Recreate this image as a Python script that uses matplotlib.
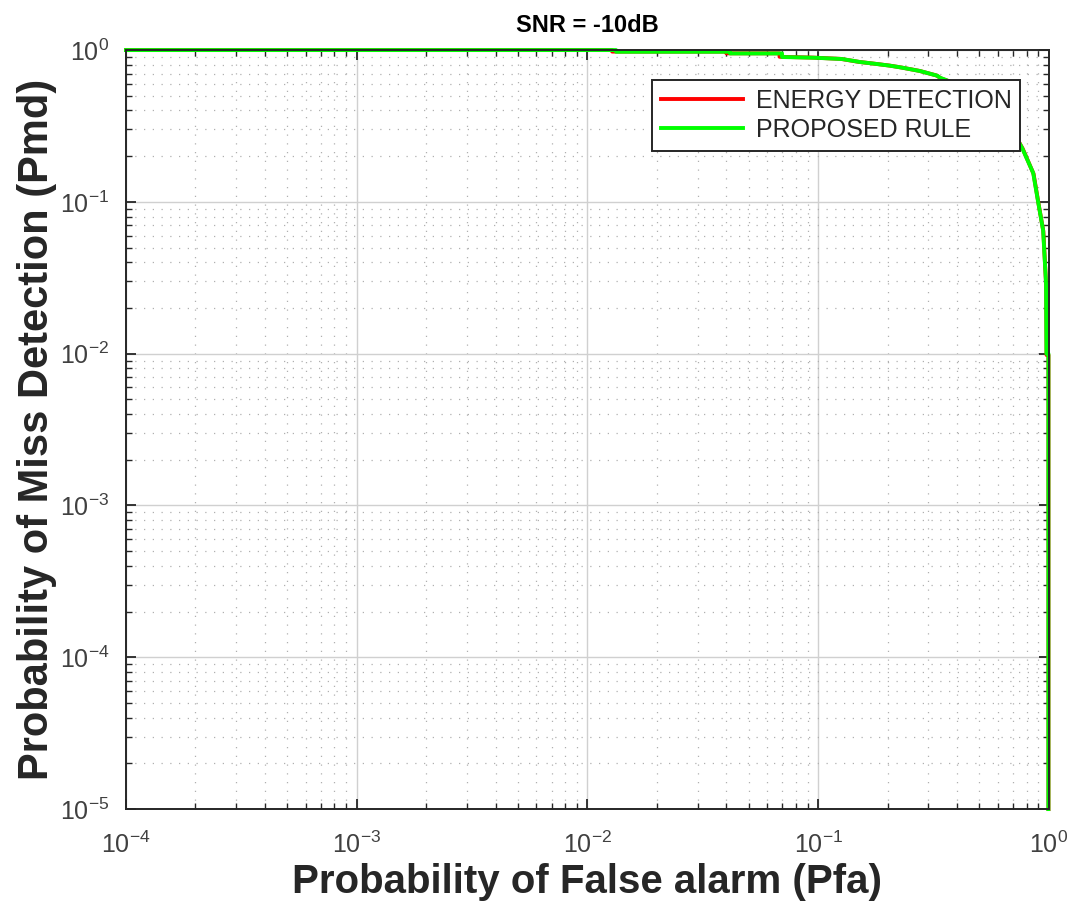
import matplotlib
matplotlib.use("Agg")
import matplotlib.pyplot as plt
from matplotlib.ticker import LogLocator, NullFormatter

plt.rcParams['font.family'] = ['Liberation Sans', 'DejaVu Sans']
plt.rcParams['mathtext.fontset'] = 'custom'
plt.rcParams['mathtext.rm'] = 'Liberation Sans'
plt.rcParams['mathtext.it'] = 'Liberation Sans'
plt.rcParams['axes.unicode_minus'] = False

# ROC data (Pfa, Pmd)
pfa_prop = [1e-4, 0.0133, 0.0133, 0.0415, 0.0415, 0.0697, 0.0697, 0.097, 0.127, 0.152,
            0.180, 0.205, 0.231, 0.277, 0.328, 0.337, 0.40, 0.50, 0.60, 0.70, 0.766,
            0.855, 0.898, 0.944, 0.972, 0.976, 0.995, 0.995]
pmd_prop = [1.0, 1.0, 0.975, 0.975, 0.95, 0.95, 0.90, 0.89, 0.873, 0.834,
            0.809, 0.789, 0.766, 0.727, 0.678, 0.658, 0.595, 0.49, 0.39, 0.29, 0.226,
            0.155, 0.10, 0.065, 0.029, 0.01, 0.01, 1e-5]

pfa_ed = [1e-4, 0.0128, 0.0128, 0.040, 0.040, 0.068, 0.068, 0.095, 0.125, 0.150,
          0.178, 0.203, 0.229, 0.275, 0.326, 0.340, 0.40, 0.50, 0.60, 0.70, 0.770,
          0.858, 0.900, 0.946, 0.973, 0.977, 0.996, 0.996]
pmd_ed = [1.0, 1.0, 0.977, 0.977, 0.952, 0.952, 0.903, 0.892, 0.875, 0.836,
          0.811, 0.791, 0.768, 0.729, 0.680, 0.652, 0.595, 0.49, 0.39, 0.29, 0.224,
          0.153, 0.099, 0.064, 0.028, 0.0098, 0.0098, 1e-5]

fig = plt.figure(figsize=(10.79, 9.17), dpi=100)
ax = fig.add_axes([0.1168, 0.1177, 0.8553, 0.8277])

ax.loglog(pfa_ed, pmd_ed, color='#ff0000', lw=2.8, label='ENERGY DETECTION', clip_on=False)
ax.loglog(pfa_prop, pmd_prop, color='#00ff00', lw=2.8, label='PROPOSED RULE', clip_on=False)

ax.set_xlim(1e-4, 1)
ax.set_ylim(1e-5, 1)

ax.xaxis.set_major_locator(LogLocator(base=10, numticks=10))
ax.yaxis.set_major_locator(LogLocator(base=10, numticks=10))
ax.xaxis.set_minor_locator(LogLocator(base=10, subs=range(2, 10), numticks=20))
ax.yaxis.set_minor_locator(LogLocator(base=10, subs=range(2, 10), numticks=20))
ax.xaxis.set_minor_formatter(NullFormatter())
ax.yaxis.set_minor_formatter(NullFormatter())

ax.grid(True, which='major', color='#d0d0d0', lw=1.0, ls='-')
ax.grid(True, which='minor', color='#b0b0b0', lw=0.9, ls=(0, (1, 6)))
ax.set_axisbelow(True)

ax.tick_params(which='both', direction='in', top=True, right=True, colors='#262626',
               labelcolor='#404040', labelsize=18)
ax.tick_params(which='major', length=7, width=1.3)
ax.tick_params(axis='x', which='major', pad=16)
ax.tick_params(axis='y', which='major', pad=12)
ax.tick_params(which='minor', length=4, width=1.0)
for s in ax.spines.values():
    s.set_color('#262626')
    s.set_linewidth(1.4)

ax.set_title('SNR = -10dB', fontsize=17, fontweight='bold', pad=13)
ax.set_xlabel('Probability of False alarm (Pfa)', fontsize=29, fontweight='bold',
              color='#262626', labelpad=4)
ax.set_ylabel('Probability of Miss Detection (Pmd)', fontsize=30, fontweight='bold',
              color='#262626', labelpad=2)

leg = ax.legend(loc='upper right', bbox_to_anchor=(0.969, 0.9605), fontsize=18,
                fancybox=False, framealpha=1, edgecolor='#262626', borderaxespad=0,
                handlelength=3.3, handletextpad=0.5, borderpad=0.35, labelspacing=0.2)
leg.get_frame().set_linewidth(1.4)
for t in leg.get_texts():
    t.set_color('#262626')

fig.savefig('out.png', dpi=100)
